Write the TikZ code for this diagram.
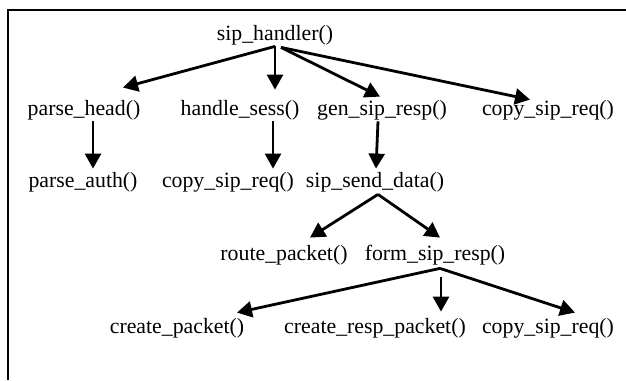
\documentclass[tikz,border=0pt]{standalone}
\usepackage{fontspec}
\setmainfont{Liberation Serif}
\usepackage{tikz}
\usetikzlibrary{arrows.meta,calc,positioning}

\begin{document}
\begin{tikzpicture}[
		x=0.5pt, y=-0.5pt,
		func/.style={inner sep=0pt, anchor=base, text height=9pt, text depth=3pt,
			font=\fontsize{10.9pt}{13pt}\selectfont},
		call/.style={-{Triangle[length=7.5pt,width=8pt]}, line width=1.4pt},
		frame/.style={line width=1pt}
		]
	\useasboundingbox (0,0) rectangle (626,380);

	% --- cadre (haut et gauche) ---
	\draw[frame] (8,380) -- (8,10) -- (626,10);

	% --- fonctions ---
	\node[func] (root) at (275, 40) {sip\_handler()};

	\node[func] (ph)   at (84, 115)  {parse\_head()};
	\node[func] (hs)   at (240, 115) {handle\_sess()};
	\node[func] (gsr)  at (382, 115) {gen\_sip\_resp()};
	\node[func] (csr1) at (548, 115) {copy\_sip\_req()};

	\node[func] (pa)   at (83, 187)  {parse\_auth()};
	\node[func] (csr2) at (228, 187) {copy\_sip\_req()};
	\node[func] (ssd)  at (375, 187) {sip\_send\_data()};

	\node[func] (rp)   at (284, 260) {route\_packet()};
	\node[func] (fsr)  at (435, 260) {form\_sip\_resp()};

	\node[func] (cp)   at (177, 333) {create\_packet()};
	\node[func] (crp)  at (375, 333) {create\_resp\_packet()};
	\node[func] (csr3) at (548, 333) {copy\_sip\_req()};

	% --- appels ---
	\draw[call] (root.south) -- ($(ph.north)+(39,-9)$);
	\draw[call] (root.south) -- ($(hs.north)+(35,-7)$);
	\draw[call] ($(root.south)+(6,1)$) -- ($(gsr.north)+(-2,0)$);
	\draw[call] ($(root.south)+(6,1)$) -- ($(csr1.north)+(-18,3)$);

	\draw[call] ($(ph.south)+(9,0)$) -- ($(pa.north)+(10,0)$);
	\draw[call] ($(hs.south)+(33,0)$) -- ($(csr2.north)+(45,0)$);
	\draw[call] ($(gsr.south)+(-4,0)$) -- ($(ssd.north)+(1,0)$);

	\draw[call] ($(ssd.south)+(3,1)$) -- ($(rp.north)+(26,-4)$);
	\draw[call] ($(ssd.south)+(3,1)$) -- ($(fsr.north)+(5,-4)$);

	\draw[call] ($(fsr.south)+(5,2)$) -- ($(cp.north)+(60,-2)$);
	\draw[call] ($(fsr.south)+(6,11)$) -- ($(crp.north)+(66,-3)$);
	\draw[call] ($(fsr.south)+(5,2)$) -- ($(csr3.north)+(27,-2)$);

\end{tikzpicture}
\end{document}
